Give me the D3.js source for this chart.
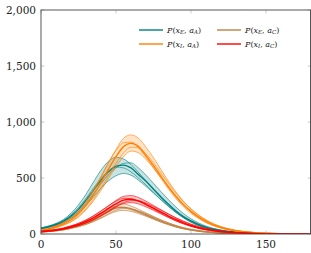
<!DOCTYPE html>
<html>
<head>
<meta charset="utf-8">
<script src="https://cdn.jsdelivr.net/npm/d3@7"></script>
<style>
body { margin: 0; background: #fff; }
svg { display: block; }
</style>
</head>
<body>
<svg id="chart" width="311" height="253"></svg>
<script>
// sample positions on the x axis
var xs = [0,5,10,15,20,25,30,35,40,45,50,55,60,65,70,75,80,85,90,95,100,105,110,115,120,125,130,140,150,160,170,180];

// P(x_E, a_A) - teal
var tealMean = [50,65,85,115,160,220,300,390,480,555,605,615,590,530,470,400,330,265,205,155,118,85,62,45,32,22,15,6,3,1,0,0];
var teal1 = [55,72,95,130,185,260,355,465,570,650,685,670,620,550,475,398,325,258,198,148,108,77,55,38,27,18,12,5,2,1,0,0];
var teal2 = [45,58,75,100,138,188,255,330,410,475,520,540,525,480,425,365,305,248,196,150,112,81,58,41,29,20,14,6,3,1,0,0];
var teal3 = [48,62,80,108,148,200,272,360,450,530,590,630,635,590,525,452,378,306,240,182,136,99,71,50,35,24,16,7,3,1,0,0];
var teal4 = [52,68,90,122,170,235,318,410,495,565,598,590,555,500,438,372,306,245,190,143,105,75,53,37,26,18,12,5,2,1,0,0];

// P(x_E, a_C) - brown
var brownMean = [18,24,30,40,55,72,95,125,160,200,232,238,225,200,172,143,115,90,68,50,37,27,19,13,9,6,4,2,1,0,0,0];
var brown1 = [20,27,34,46,63,84,111,146,187,232,266,268,250,221,189,157,126,98,74,55,40,29,20,14,10,7,5,2,1,0,0,0];
var brown2 = [16,21,27,36,49,64,84,110,140,174,201,210,202,182,158,132,107,84,64,48,35,26,18,13,9,6,4,2,1,0,0,0];
var brown3 = [19,25,32,43,59,79,106,140,180,222,244,238,218,192,163,134,106,82,61,45,33,24,17,12,8,6,4,2,1,0,0,0];
var brown4 = [17,22,28,37,50,66,87,113,145,181,212,228,224,207,182,154,126,100,77,58,43,32,23,16,11,8,5,3,1,0,0,0];

// P(x_I, a_A) - orange
var orangeMean = [30,45,65,90,125,180,255,350,460,580,690,780,810,780,700,610,515,420,335,260,200,150,110,80,57,40,28,14,7,3,1,0];
var orange1 = [35,50,72,100,140,200,280,385,505,635,755,855,885,855,775,680,575,470,375,292,225,170,125,90,64,45,32,16,8,3,1,0];
var orange2 = [25,38,55,78,108,152,215,295,390,495,600,690,740,725,665,590,505,420,340,268,208,158,118,86,62,44,31,15,7,3,1,0];
var orange3 = [32,48,70,100,142,205,290,395,515,640,745,815,820,770,685,590,495,400,315,243,185,138,101,73,52,37,26,13,6,3,1,0];
var orange4 = [28,42,60,82,112,160,225,310,410,520,630,725,775,770,715,635,545,452,365,288,224,170,126,92,66,47,33,16,8,4,1,0];

// P(x_I, a_C) - red
var redMean = [22,28,36,48,65,85,112,145,185,228,270,302,310,295,265,230,195,160,128,100,76,56,41,30,22,16,12,6,3,2,1,0];
var red1 = [25,32,41,54,72,95,125,162,205,253,300,336,343,326,293,255,216,178,142,111,84,62,45,33,24,17,13,6,3,2,1,0];
var red2 = [19,24,31,42,57,75,99,128,164,203,242,272,280,268,242,211,179,147,117,91,69,51,37,27,20,15,11,5,3,2,1,0];
var red3 = [24,31,40,53,72,95,125,162,206,252,292,318,315,292,258,220,184,149,117,90,68,50,36,26,19,14,10,5,2,1,1,0];
var red4 = [20,26,33,44,59,77,101,131,168,208,248,280,298,296,276,246,213,178,145,115,89,67,50,37,27,20,14,7,3,2,1,0];

var xTicks = [0, 50, 100, 150];
var yTicks = [0, 500, 1000, 1500, 2000];

var groups = [
  {color: "#008080", mean: tealMean, members: [teal1, teal2, teal3, teal4], sub1: "E", sub2: "A"},
  {color: "#bf8040", mean: brownMean, members: [brown1, brown2, brown3, brown4], sub1: "E", sub2: "C"},
  {color: "#ff8000", mean: orangeMean, members: [orange1, orange2, orange3, orange4], sub1: "I", sub2: "A"},
  {color: "#ff0000", mean: redMean, members: [red1, red2, red3, red4], sub1: "I", sub2: "C"}
];

var serif = "'DejaVu Serif', serif";

var margin = {top: 10, right: 0, bottom: 19, left: 41};
var W = 311, H = 253;

var x = d3.scaleLinear().domain([0, 180]).range([margin.left, W - margin.right]);
var y = d3.scaleLinear().domain([0, 2000]).range([H - margin.bottom, margin.top]);

var svg = d3.select("#chart");

var plot = svg.append("g");
plot.append("clipPath").attr("id", "clip")
  .append("rect")
    .attr("x", x(0)).attr("y", y(2000))
    .attr("width", x(180) - x(0)).attr("height", y(0) - y(2000));

var area = d3.area()
  .x(function(d) { return x(d.x); })
  .y0(function(d) { return y(d.lo); })
  .y1(function(d) { return y(d.hi); })
  .curve(d3.curveMonotoneX);

var line = d3.line()
  .x(function(d, i) { return x(xs[i]); })
  .y(function(d) { return y(d); })
  .curve(d3.curveMonotoneX);

var layer = plot.append("g").attr("clip-path", "url(#clip)");

groups.forEach(function(g) {
  var all = g.members.concat([g.mean]);
  var band = xs.map(function(xv, i) {
    return {x: xv, lo: d3.min(all, function(s) { return s[i]; }), hi: d3.max(all, function(s) { return s[i]; })};
  });
  layer.append("path")
    .datum(band)
    .attr("d", area)
    .attr("fill", g.color)
    .attr("fill-opacity", 0.22);
  g.members.forEach(function(m) {
    layer.append("path")
      .datum(m)
      .attr("d", line)
      .attr("fill", "none")
      .attr("stroke", g.color)
      .attr("stroke-width", 0.6);
  });
  layer.append("path")
    .datum(g.mean)
    .attr("d", line)
    .attr("fill", "none")
    .attr("stroke", g.color)
    .attr("stroke-width", 1.4);
});

// ticks, inside on all sides
var tickLen = 3.5;
var ticks = plot.append("g").attr("stroke", "#aaa").attr("stroke-width", 0.6);
xTicks.forEach(function(t) {
  ticks.append("line").attr("x1", x(t)).attr("x2", x(t)).attr("y1", y(0)).attr("y2", y(0) - tickLen);
  ticks.append("line").attr("x1", x(t)).attr("x2", x(t)).attr("y1", y(2000)).attr("y2", y(2000) + tickLen);
});
yTicks.forEach(function(t) {
  ticks.append("line").attr("x1", x(0)).attr("x2", x(0) + tickLen).attr("y1", y(t)).attr("y2", y(t));
  ticks.append("line").attr("x1", x(180)).attr("x2", x(180) - tickLen).attr("y1", y(t)).attr("y2", y(t));
});

// frame
plot.append("rect")
  .attr("x", x(0)).attr("y", y(2000))
  .attr("width", x(180) - x(0) - 0.5).attr("height", y(0) - y(2000))
  .attr("fill", "none")
  .attr("stroke", "#444")
  .attr("stroke-width", 0.9);

var fmt = d3.format(",");
svg.append("g").selectAll("text")
  .data(yTicks)
  .enter().append("text")
    .attr("x", 36)
    .attr("y", function(d) { return y(d) + 4; })
    .attr("text-anchor", "end")
    .attr("font-family", serif)
    .attr("font-size", 10.5)
    .attr("fill", "#222")
    .text(function(d) { return fmt(d); });

svg.append("g").selectAll("text")
  .data(xTicks)
  .enter().append("text")
    .attr("x", function(d) { return x(d); })
    .attr("y", 248)
    .attr("text-anchor", "middle")
    .attr("font-family", serif)
    .attr("font-size", 10.5)
    .attr("fill", "#222")
    .text(function(d) { return d; });

// legend, two columns
var legendPos = [[139, 30], [217, 30], [139, 44], [217, 44]];
groups.forEach(function(g, i) {
  var p = legendPos[i];
  var lg = svg.append("g").attr("transform", "translate(" + p[0] + "," + p[1] + ")");
  lg.append("line").attr("x1", 0).attr("x2", 24).attr("y1", 0).attr("y2", 0)
    .attr("stroke", g.color).attr("stroke-width", 1.4);
  var t = lg.append("text").attr("x", 28).attr("y", 2.6)
    .attr("font-family", serif).attr("font-size", 8).attr("fill", "#222");
  t.append("tspan").attr("font-style", "italic").text("P");
  t.append("tspan").text("(");
  t.append("tspan").attr("font-style", "italic").text("x");
  t.append("tspan").attr("font-style", "italic").attr("font-size", 5.5).attr("dy", 1.6).text(g.sub1);
  t.append("tspan").attr("dy", -1.6).text(", ");
  t.append("tspan").attr("font-style", "italic").text("a");
  t.append("tspan").attr("font-style", "italic").attr("font-size", 5.5).attr("dy", 1.6).text(g.sub2);
  t.append("tspan").attr("dy", -1.6).text(")");
});
</script>
</body>
</html>
